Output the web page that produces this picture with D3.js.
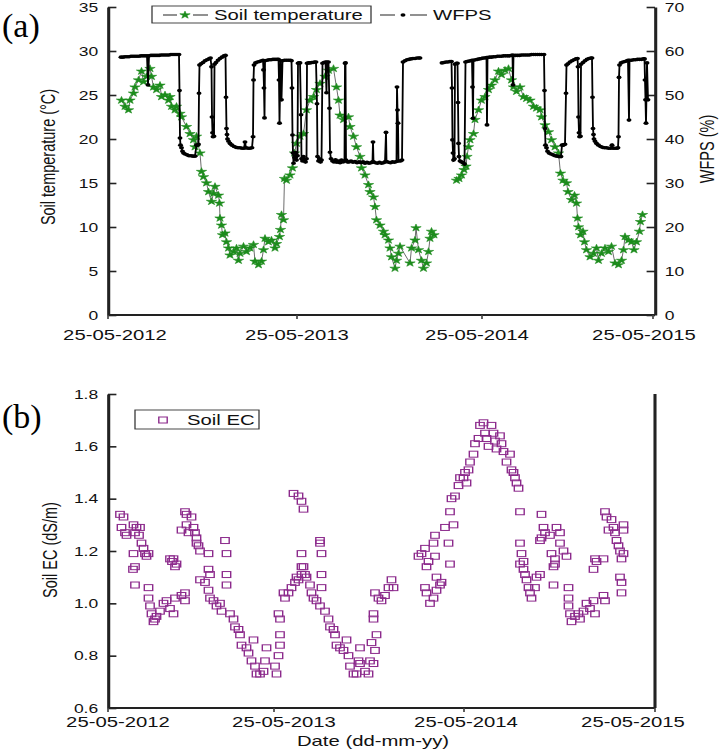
<!DOCTYPE html>
<html><head><meta charset="utf-8">
<script src="https://cdn.jsdelivr.net/npm/d3@7/dist/d3.min.js"></script>
<style>body{margin:0;background:#fff}svg{display:block}</style>
</head><body>
<svg id="c" width="722" height="751"></svg>
<script>
// ---------- data (x = days since 25-05-2012) ----------
const tickLabels = ["25-05-2012","25-05-2013","25-05-2014","25-05-2015"];
const tickDaysA = [0, 378, 748, 1090];
const labelDaysA = [14, 378, 738, 1072];
const tickDaysB = [0, 332, 712, 1094];
const labelDaysB = [20, 352, 716, 1050];
const tempTicks = [0, 5, 10, 15, 20, 25, 30, 35];
const wfpsTicks = [0, 10, 20, 30, 40, 50, 60, 70];
const ecTicks = [0.6, 0.8, 1.0, 1.2, 1.4, 1.6, 1.8];

const soilTempA = [[27,24.4],[34,23.7],[41,23.3],[44,24.4],[51,25.2],[54,25.9],[61,26.7],[67,27.7],[71,26.5],[77,27.1],[84,28.0],[87,27.1],[91,25.9],[97,25.6],[104,26.1],[107,24.8],[114,25.0],[121,24.4],[124,24.8],[127,23.7],[134,23.3],[137,23.7],[144,22.9],[147,22.5],[157,21.4],[164,20.6],[171,19.9],[174,19.1],[177,20.3],[184,18.4],[187,16.3],[191,15.7],[197,15.0],[201,14.0],[207,12.9],[211,13.8],[214,14.6],[221,13.6],[223,12.7],[224,11.0],[227,10.2],[229,9.1],[234,9.3],[237,8.3],[241,7.6],[244,6.8],[251,7.2],[257,7.6],[261,6.2],[264,7.0],[271,7.8],[277,7.2],[284,7.6],[291,8.0],[294,6.1],[301,5.7],[307,6.1],[311,7.4],[314,8.7],[321,8.3],[327,8.5],[334,7.6],[337,8.1],[343,8.9],[345,9.7],[347,11.4],[351,10.8],[353,15.5],[357,15.3],[364,15.9],[369,16.7],[373,18.4],[377,19.5],[384,20.3],[391,20.6],[397,23.3],[404,24.4],[411,24.8],[417,25.6],[424,26.3],[434,27.1],[441,27.8],[451,28.0],[457,25.9],[461,24.4],[464,22.7],[471,22.2],[481,22.5],[484,21.4],[491,20.3],[497,19.1],[504,18.0],[507,16.7],[514,15.9],[521,14.8],[524,14.0],[531,13.4],[534,12.3],[537,10.8],[544,10.2],[551,9.5],[554,9.1],[561,8.5],[564,7.6],[567,6.6],[574,5.3],[577,6.2],[581,7.0],[584,7.8],[604,5.9],[607,7.6],[614,8.5],[616,9.9],[621,7.4],[627,6.2],[631,5.3],[637,5.9],[641,7.2],[644,8.7],[647,9.5],[652,9.1]];

const soilTempB = [[697,15.3],[702,15.5],[707,15.9],[712,16.5],[716,16.9],[718,18.0],[721,19.1],[724,19.9],[731,20.6],[734,22.2],[741,23.3],[747,24.4],[754,24.8],[761,25.6],[767,26.1],[774,26.7],[781,27.7],[787,27.3],[794,27.8],[801,28.0],[807,26.7],[811,25.9],[817,25.4],[824,25.9],[831,24.8],[837,24.6],[844,24.4],[851,23.7],[857,23.5],[864,23.3],[867,22.5],[874,21.6],[881,20.8],[887,19.9],[894,19.1],[901,18.4],[905,16.1],[910,15.3],[917,15.0],[920,14.0],[927,13.1],[933,13.6],[937,12.7],[939,11.0],[941,10.0],[945,9.1],[950,9.5],[953,8.3],[957,7.4],[964,6.6],[971,7.0],[977,7.6],[981,6.2],[987,7.0],[994,7.6],[1001,7.2],[1007,7.8],[1014,5.9],[1021,5.7],[1027,6.2],[1031,7.4],[1034,8.9],[1041,8.5],[1047,8.3],[1052,7.4],[1057,8.3],[1063,9.5],[1065,10.6],[1069,11.4]];

const wfpsA = [[26,58.6],[30,58.6],[34,58.7],[38,58.7],[42,58.7],[46,58.8],[50,58.8],[54,58.8],[58,58.8],[62,58.8],[66,58.9],[70,58.9],[74,58.9],[78,58.9],[80,52.3],[82,58.9],[86,59.0],[90,59.0],[94,59.0],[98,59.0],[102,59.0],[106,59.1],[110,59.1],[114,59.1],[118,59.1],[122,59.1],[126,59.2],[130,59.2],[134,59.2],[138,59.2],[142,59.2],
[143,51.0],[144,40.2],[145,38.6],[147,38.0],[149,37.2],[151,36.8],[154,36.6],[158,36.4],[162,36.2],[166,36.2],[170,36.1],[174,36.1],[177,38.6],[179,38.6],[181,38.8],[182,50.4],[183,56.8],[186,57.1],[190,57.4],[194,57.8],[198,58.0],[202,58.2],[205,58.4],[207,56.4],[208,45.0],[209,41.4],[210,40.5],[212,40.6],[213,57.0],[216,57.4],[220,57.9],[224,58.3],[228,58.6],[232,58.9],[235,59.0],
[236,49.5],[237,42.4],[238,41.0],[239,40.0],[241,39.5],[244,39.0],[248,38.6],[252,38.3],[256,38.1],[260,38.0],[264,38.0],[268,37.9],[272,37.9],[274,39.3],[276,38.0],[280,37.9],[284,37.9],[288,38.0],[290,40.5],[291,53.4],[292,56.8],[295,57.3],[299,57.5],[303,57.6],[307,57.8],[310,57.9],[311,55.7],[312,51.6],[313,44.8],[314,57.8],[318,57.9],[322,58.0],[326,58.0],[330,58.1],[334,58.1],[338,58.1],[341,58.1],[342,53.4],[343,43.6],[345,57.8],[347,48.9],[349,57.8],[353,57.9],[357,57.9],[361,57.9],[365,57.9],[367,57.8],
[368,51.6],[369,40.9],[370,36.8],[371,34.5],[373,35.8],[375,36.9],[377,35.2],[379,36.2],[380,57.2],[382,57.3],[384,57.3],[386,45.5],[387,35.5],[389,35.0],[391,36.0],[393,35.2],[395,34.8],[397,35.5],[398,57.2],[401,57.3],[404,57.3],[407,57.4],[410,57.4],[413,57.5],[416,57.5],[418,48.0],[419,36.0],[421,35.0],[423,35.5],[425,34.8],[427,35.2],[429,57.2],[432,57.4],[435,57.5],[437,50.5],[438,57.5],[441,57.5],[443,47.0],[444,37.0],[446,35.5],[449,35.0],[452,34.8],[455,35.3],[458,34.7],[461,35.0],[464,34.6],[467,35.2],[470,34.8],[473,35.0],[474,57.2],[475,57.3],[476,35.2],[479,34.8],[482,34.8],[486,35.0],[490,34.7],[494,34.9],[498,34.6],[502,34.8],[506,34.6],[510,34.8],[514,34.5],[518,34.7],[522,34.5],[526,34.6],[529,34.8],[530,39.3],[531,34.8],[535,34.6],[539,34.5],[543,34.7],[547,34.5],[551,34.6],[554,34.8],[556,41.5],[557,34.9],[561,34.7],[565,34.6],[569,34.8],[573,34.7],[577,34.9],[578,51.8],[579,46.6],[580,43.6],[581,35.0],[585,35.0],[588,35.2],[590,57.5],[594,57.8],[598,58.0],[602,58.1],[606,58.2],[610,58.3],[614,58.3],[618,58.4],[622,58.4],[624,58.4]];

const wfpsB = [[668,57.3],[672,57.4],[676,57.5],[680,57.5],[684,57.6],[687,57.6],[688,51.6],[689,39.8],[690,36.8],[691,35.2],[693,35.5],[694,57.0],[697,57.2],[699,57.2],[700,48.3],[701,39.0],[702,36.0],[704,35.0],[707,34.8],[710,34.6],[713,34.3],[715,57.5],[718,57.6],[722,57.7],[726,57.8],[728,57.9],[729,51.8],[730,44.7],[731,57.9],[735,58.0],[739,58.1],[743,58.2],[747,58.3],[750,58.4],[754,58.4],[757,58.5],[758,43.2],[759,58.5],[763,58.6],[767,58.6],[771,58.7],[775,58.7],[779,58.8],[783,58.8],[787,58.8],[791,58.9],[795,58.9],[799,58.9],[803,58.9],[807,59.0],[809,59.0],[810,52.3],[811,59.0],[815,59.0],[819,59.0],[823,59.0],[827,59.1],[831,59.1],[835,59.1],[839,59.1],[843,59.1],[847,59.2],[851,59.2],[855,59.2],[859,59.2],[863,59.2],[867,59.2],[872,59.2],
[873,51.0],[874,42.4],[875,38.6],[877,38.0],[879,37.2],[882,36.8],[886,36.6],[890,36.4],[894,36.2],[898,36.1],[902,36.0],[906,36.0],[908,38.6],[910,38.6],[912,38.7],[914,38.8],[916,50.4],[917,56.8],[920,57.1],[924,57.5],[928,57.8],[932,58.0],[936,58.2],[939,58.3],[940,56.4],[941,45.0],[942,41.4],[943,40.5],[945,40.6],[946,57.0],[950,57.4],[954,57.8],[958,58.1],[962,58.3],[966,58.4],[968,58.4],
[969,49.5],[970,42.4],[971,41.0],[972,40.0],[974,39.5],[977,39.0],[981,38.6],[985,38.3],[989,38.1],[993,38.0],[997,38.0],[1001,37.9],[1005,37.9],[1008,38.6],[1010,37.9],[1014,37.9],[1018,37.9],[1020,38.0],[1021,40.5],[1022,54.0],[1023,56.8],[1026,57.3],[1030,57.5],[1034,57.6],[1038,57.8],[1040,57.9],[1042,44.3],[1043,57.9],[1047,57.9],[1051,58.0],[1055,58.0],[1059,58.1],[1063,58.1],[1067,58.1],[1071,58.2],[1073,58.2],[1074,53.4],[1075,48.9],[1076,43.6],[1078,57.3],[1080,48.9]];

const soilEC = [[24,1.34],[31,1.33],[27,1.29],[34,1.27],[37,1.26],[51,1.30],[57,1.29],[64,1.29],[54,1.27],[62,1.26],[67,1.23],[71,1.21],[74,1.19],[81,1.19],[77,1.18],[51,1.19],[54,1.14],[50,1.13],[54,1.07],[81,1.06],[81,1.02],[84,0.99],[87,0.96],[91,0.93],[94,0.94],[97,0.95],[104,0.97],[111,1.00],[117,1.01],[124,0.98],[131,0.96],[134,1.02],[147,1.03],[154,1.01],[154,1.04],[124,1.17],[128,1.16],[131,1.17],[134,1.14],[137,1.15],
[154,1.35],[157,1.34],[167,1.33],[147,1.28],[157,1.30],[161,1.27],[171,1.29],[174,1.27],[177,1.25],[177,1.23],[181,1.22],[184,1.20],[201,1.19],[234,1.24],[237,1.19],[201,1.13],[204,1.11],[237,1.11],[184,1.09],[194,1.08],[201,1.05],[204,1.02],[211,1.01],[217,0.99],[224,1.00],[227,0.97],[237,1.07],[244,0.96],[251,0.94],[254,0.91],[261,0.90],[264,0.88],[267,0.84],[277,0.83],[281,0.81],[291,0.86],[287,0.78],[294,0.76],[297,0.73],[304,0.73],[311,0.74],[314,0.78],[317,0.83],[334,0.76],[337,0.73],[341,0.80],[344,0.84],[344,0.88],[341,0.96],[344,0.94],[351,1.04],[354,1.02],[361,1.04],[367,1.06],[374,1.08],[381,1.09],[387,1.11],[391,1.14],[397,1.10],[404,1.07],[407,1.04],[411,1.02],[417,1.01],[424,0.99],[427,1.11],[427,1.06],[434,0.97],[441,0.94],[444,0.91],[451,0.90],[454,0.88],[457,0.84],[464,0.83],[471,0.82],[477,0.86],[481,0.80],[484,0.76],[491,0.73],[497,0.73],[501,0.78],[504,0.83],
[371,1.42],[381,1.41],[387,1.39],[391,1.36],[387,1.19],[387,1.14],[394,1.11],[424,1.24],[424,1.23],[427,1.19],[377,1.10],[504,0.77],[514,0.74],[521,0.73],[524,0.78],[531,0.77],[527,0.85],[534,0.82],[537,0.88],[531,0.96],[531,0.94],[534,1.04],[541,1.02],[547,1.01],[554,1.03],[561,1.06],[567,1.09],[571,1.06],[634,1.06],[637,1.04],[644,1.00],[651,1.02],[657,1.05],[664,1.07],[667,1.08],[637,1.14],[657,1.10],[684,1.15],[641,1.16],[621,1.18],[627,1.19],[634,1.21],[654,1.26],[651,1.23],[654,1.18],[681,1.23],[674,1.29],[691,1.30],[684,1.35],[687,1.40],[694,1.41],[701,1.45],[704,1.48],[711,1.48],[714,1.50],[717,1.46],[721,1.51],[724,1.54],[731,1.57],[734,1.61],[741,1.63],[744,1.68],[751,1.69],[754,1.65],[757,1.63],[761,1.60],[767,1.68],[771,1.65],[774,1.62],[777,1.59],[784,1.64],[787,1.61],[791,1.58],[797,1.54],[804,1.57],[807,1.51],[811,1.50],[814,1.48],[817,1.46],[821,1.44],[824,1.35],[824,1.23],[827,1.19],[831,1.16],[831,1.13],[824,1.15],[834,1.11],[837,1.09],[841,1.06],[844,1.04],[847,1.02],[854,1.06],[857,1.10],[864,1.11],[891,1.14],[894,1.17],[891,1.07],[867,1.34],[871,1.29],[874,1.27],[884,1.26],[897,1.29],[904,1.27],[904,1.23],[911,1.20],[917,1.18],[887,1.19],[894,1.15],[867,1.25],[864,1.24],[921,1.06],[921,1.02],[921,0.99],[924,0.96],[927,0.93],[934,0.95],[941,0.96],[944,0.94],[951,0.97],[957,1.00],[964,0.98],[971,1.01],[974,0.96],[991,1.03],[994,1.01],[974,1.17],[977,1.16],[971,1.13],[991,1.17],[994,1.35],[997,1.33],[1007,1.32],[1011,1.29],[1001,1.28],[1014,1.27],[1031,1.30],[1031,1.28],[1017,1.24],[1021,1.22],[1024,1.20],[1031,1.19],[1027,1.17],[1024,1.10],[1027,1.08],[1027,1.04]];

// ---------- drawing ----------
const SX = 1.4;                       // reference is horizontally stretched
const FONT = "'Liberation Sans', Arial, sans-serif";
const svg = d3.select("#c");
const g = svg.append("g").attr("transform", `scale(${SX},1)`);

const x = d3.scaleLinear().domain([0, 1094]).range([108 / SX, 655 / SX]);
const xL = x.range()[0], xR = x.range()[1];

function styleAxis(sel) {
  sel.select(".domain").attr("stroke", "#222").attr("stroke-width", 2.2);
  sel.selectAll(".tick line").attr("stroke", "#222").attr("stroke-width", 1.6);
  sel.selectAll(".tick text").attr("font-family", FONT).attr("font-size", 12.5).attr("fill", "#111");
}
function bottomAxis(y0, ticks, labels, off) {
  g.append("line").attr("x1", xL).attr("x2", xR).attr("y1", y0).attr("y2", y0)
    .attr("stroke", "#222").attr("stroke-width", 2.2);
  g.selectAll(null).data(ticks).enter().append("line")
    .attr("x1", d => x(d)).attr("x2", d => x(d)).attr("y1", y0).attr("y2", y0 + 4)
    .attr("stroke", "#444").attr("stroke-width", 1.2);
  g.selectAll(null).data(labels).enter().append("text")
    .attr("x", d => x(d)).attr("y", y0 + off).attr("text-anchor", "middle")
    .attr("font-family", FONT).attr("font-size", 14.5).attr("fill", "#111")
    .text((d, i) => tickLabels[i]);
}

// ===== Panel (a) =====
const yT = d3.scaleLinear().domain([0, 35]).range([315, 7]);
const yW = d3.scaleLinear().domain([0, 70]).range([315, 7]);

g.append("g").attr("transform", `translate(${xL},0)`)
  .call(d3.axisLeft(yT).tickValues(tempTicks).tickSize(-6).tickSizeOuter(0).tickPadding(7))
  .call(styleAxis);
g.append("g").attr("transform", `translate(${xR},0)`)
  .call(d3.axisRight(yW).tickValues(wfpsTicks).tickSize(-6).tickSizeOuter(0).tickPadding(7))
  .call(styleAxis);
bottomAxis(315, tickDaysA, labelDaysA, 25);

const tempLine = d3.line().x(d => x(d[0])).y(d => yT(d[1]));
const wfpsLine = d3.line().x(d => x(d[0])).y(d => yW(d[1]));
const GREEN = "#1c8c1c";
const star = d3.symbol().type(d3.symbolStar).size(17);

[soilTempA, soilTempB].forEach(s => {
  g.append("path").attr("d", tempLine(s)).attr("fill", "none").attr("stroke", "#333").attr("stroke-width", 0.6);
});
g.selectAll(null).data(soilTempA.concat(soilTempB)).enter().append("path")
  .attr("d", star).attr("transform", d => `translate(${x(d[0])},${yT(d[1])})`)
  .attr("fill", GREEN).attr("stroke", GREEN).attr("stroke-width", 0.5);

[wfpsA, wfpsB].forEach(s => {
  g.append("path").attr("d", wfpsLine(s)).attr("fill", "none").attr("stroke", "#000").attr("stroke-width", 1.3);
});
g.selectAll(null).data(wfpsA.concat(wfpsB)).enter().append("circle")
  .attr("cx", d => x(d[0])).attr("cy", d => yW(d[1])).attr("r", 1.8).attr("fill", "#000");

// axis titles (a)
g.append("text").attr("transform", `translate(${55 / SX},157) rotate(-90)`)
  .attr("text-anchor", "middle").attr("font-family", FONT).attr("font-size", 14.5).attr("fill", "#111")
  .text("Soil temperature (°C)");
g.append("text").attr("transform", `translate(${714 / SX},149) rotate(-90)`)
  .attr("text-anchor", "middle").attr("font-family", FONT).attr("font-size", 14.5).attr("fill", "#111")
  .text("WFPS (%)");

// legend (a)
g.append("rect").attr("x", 152 / SX).attr("y", 6).attr("width", (371 - 152) / SX).attr("height", 17)
  .attr("fill", "#fff").attr("stroke", "#333").attr("stroke-width", 0.9);
[[163, 177], [193, 208]].forEach(p => g.append("line").attr("x1", p[0] / SX).attr("x2", p[1] / SX)
  .attr("y1", 15).attr("y2", 15).attr("stroke", "#222").attr("stroke-width", 1));
g.append("path").attr("d", star).attr("transform", `translate(${185 / SX},15)`).attr("fill", GREEN).attr("stroke", GREEN).attr("stroke-width", 0.5);
g.append("text").attr("x", 214 / SX).attr("y", 20).attr("font-family", FONT).attr("font-size", 14.5).attr("fill", "#111").text("Soil temperature");
[[380, 395], [410, 427]].forEach(p => g.append("line").attr("x1", p[0] / SX).attr("x2", p[1] / SX)
  .attr("y1", 15).attr("y2", 15).attr("stroke", "#222").attr("stroke-width", 1));
g.append("circle").attr("cx", 403 / SX).attr("cy", 15).attr("r", 1.8).attr("fill", "#000");
g.append("text").attr("x", 433 / SX).attr("y", 20).attr("font-family", FONT).attr("font-size", 14.5).attr("fill", "#111").text("WFPS");

// ===== Panel (b) =====
const yE = d3.scaleLinear().domain([0.6, 1.8]).range([708, 394]);
g.append("g").attr("transform", `translate(${xL},0)`)
  .call(d3.axisLeft(yE).tickValues(ecTicks).tickFormat(d3.format(".1f")).tickSize(-6).tickSizeOuter(0).tickPadding(7))
  .call(styleAxis);
g.append("line").attr("x1", xR).attr("x2", xR).attr("y1", 394).attr("y2", 708).attr("stroke", "#222").attr("stroke-width", 2.2);
bottomAxis(708, tickDaysB, labelDaysB, 19);

const PURPLE = "#8c2a8c";
g.selectAll(null).data(soilEC).enter().append("rect")
  .attr("x", d => x(d[0]) - 3).attr("y", d => yE(d[1]) - 3).attr("width", 6).attr("height", 6)
  .attr("fill", "none").attr("stroke", PURPLE).attr("stroke-width", 1);

g.append("text").attr("transform", `translate(${57 / SX},550) rotate(-90)`)
  .attr("text-anchor", "middle").attr("font-family", FONT).attr("font-size", 14.5).attr("fill", "#111")
  .text("Soil EC (dS/m)");
g.append("text").attr("x", 373 / SX).attr("y", 746).attr("text-anchor", "middle")
  .attr("font-family", FONT).attr("font-size", 14.5).attr("fill", "#111").text("Date (dd-mm-yy)");

// legend (b)
g.append("rect").attr("x", 135 / SX).attr("y", 410).attr("width", (259 - 135) / SX).attr("height", 19)
  .attr("fill", "#fff").attr("stroke", "#333").attr("stroke-width", 0.9);
g.append("rect").attr("x", 163 / SX - 3).attr("y", 417).attr("width", 6).attr("height", 6)
  .attr("fill", "none").attr("stroke", PURPLE).attr("stroke-width", 1);
g.append("text").attr("x", 187 / SX).attr("y", 425).attr("font-family", FONT).attr("font-size", 14.5).attr("fill", "#111").text("Soil EC");

// panel labels (not stretched)
svg.append("text").attr("x", 2).attr("y", 37).attr("font-family", "'Liberation Serif', 'Times New Roman', serif")
  .attr("font-size", 34).attr("fill", "#000").text("(a)");
svg.append("text").attr("x", 2).attr("y", 428).attr("font-family", "'Liberation Serif', 'Times New Roman', serif")
  .attr("font-size", 34).attr("fill", "#000").text("(b)");
</script>
</body></html>
